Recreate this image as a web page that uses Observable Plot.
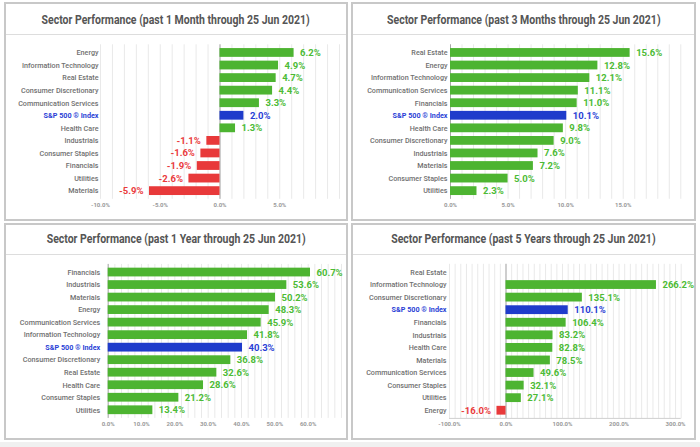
<!DOCTYPE html>
<html><head><meta charset="utf-8">
<script src="https://cdn.jsdelivr.net/npm/d3@7"></script>
<script src="https://cdn.jsdelivr.net/npm/@observablehq/plot@0.6"></script>
<style>
html,body{margin:0;padding:0;background:#fff;}
#page{position:relative;width:700px;height:447px;overflow:hidden;font-family:Roboto,"Noto Sans",sans-serif;}
.panel{position:absolute;box-sizing:border-box;border:2px solid #c8c8c8;background:#fff;}
.title{position:absolute;text-align:center;font-weight:700;font-size:12.5px;color:#555;white-space:nowrap;line-height:14px;}
.title span{display:inline-block;transform:scaleX(0.84);transform-origin:50% 50%;}
.sep{position:absolute;height:1px;background:#dddddd;}
.chart{position:absolute;}
.strip{position:absolute;left:0;top:442px;width:700px;height:5px;background:#f0f0f0;}
</style></head>
<body><div id="page"><div class="strip"></div></div>
<script>
const indexName = "S&P 500 ® Index";

const month1Title = "Sector Performance (past 1 Month through 25 Jun 2021)";
const month1Sectors = ["Energy","Information Technology","Real Estate","Consumer Discretionary","Communication Services","S&P 500 ® Index","Health Care","Industrials","Consumer Staples","Financials","Utilities","Materials"];
const month1Values = [6.2,4.9,4.7,4.4,3.3,2.0,1.3,-1.1,-1.6,-1.9,-2.6,-5.9];
const month1Ticks = [-10,-5,0,5];

const month3Title = "Sector Performance (past 3 Months through 25 Jun 2021)";
const month3Sectors = ["Real Estate","Energy","Information Technology","Communication Services","Financials","S&P 500 ® Index","Health Care","Consumer Discretionary","Industrials","Materials","Consumer Staples","Utilities"];
const month3Values = [15.6,12.8,12.1,11.1,11.0,10.1,9.8,9.0,7.6,7.2,5.0,2.3];
const month3Ticks = [0,5,10,15];

const year1Title = "Sector Performance (past 1 Year through 25 Jun 2021)";
const year1Sectors = ["Financials","Industrials","Materials","Energy","Communication Services","Information Technology","S&P 500 ® Index","Consumer Discretionary","Real Estate","Health Care","Consumer Staples","Utilities"];
const year1Values = [60.7,53.6,50.2,48.3,45.9,41.8,40.3,36.8,32.6,28.6,21.2,13.4];
const year1Ticks = [0,10,20,30,40,50,60];

const year5Title = "Sector Performance (past 5 Years through 25 Jun 2021)";
const year5Sectors = ["Real Estate","Information Technology","Consumer Discretionary","S&P 500 ® Index","Financials","Industrials","Health Care","Materials","Communication Services","Consumer Staples","Utilities","Energy"];
const year5Values = [null,266.2,135.1,110.1,106.4,83.2,82.8,78.5,49.6,32.1,27.1,-16.0];
const year5Ticks = [-100,0,100,200,300];

const GREEN = "#4db431", RED = "#e8393a", BLUE = "#1f3ccb";
const GREEN_TXT = "#4cbb35", RED_TXT = "#ea3a3c", BLUE_TXT = "#2a3fd6";

const panels = [
  {title: month1Title, sectors: month1Sectors, values: month1Values, ticks: month1Ticks, domain: [-10,10], minor: 1,
   box: {left:4, top:2, width:344, height:219}, titleTop: 13, sepTop: 34,
   svg: {left:6, top:35, width:340, height:183, ml:94, mr:7, mt:9.3, mb:19.2}, labelDx: -2, baseline:false},
  {title: month3Title, sectors: month3Sectors, values: month3Values, ticks: month3Ticks, domain: [0,20], minor: 1,
   box: {left:351, top:2, width:345, height:219}, titleTop: 13, sepTop: 34,
   svg: {left:353, top:35, width:341, height:183, ml:97, mr:13.7, mt:9.3, mb:19.2}, labelDx: -3, baseline:false},
  {title: year1Title, sectors: year1Sectors, values: year1Values, ticks: year1Ticks, domain: [0,70], minor: 2,
   box: {left:4, top:223, width:344, height:217}, titleTop: 232, sepTop: 254,
   svg: {left:6, top:255, width:340, height:183, ml:101.7, mr:5, mt:8.9, mb:20.1}, labelDx: -8, baseline:false},
  {title: year5Title, sectors: year5Sectors, values: year5Values, ticks: year5Ticks, domain: [-100,310], minor: 10,
   box: {left:351, top:223, width:345, height:217}, titleTop: 232, sepTop: 254,
   svg: {left:353, top:255, width:341, height:183, ml:96, mr:13.3, mt:8.8, mb:19.6}, labelDx: -3, baseline:true}
];

const page = document.getElementById("page");
const fmt = v => v.toFixed(1) + "%";

for (const p of panels) {
  const box = document.createElement("div");
  box.className = "panel";
  Object.assign(box.style, {left: p.box.left+"px", top: p.box.top+"px", width: p.box.width+"px", height: p.box.height+"px"});
  page.appendChild(box);

  const t = document.createElement("div");
  t.className = "title";
  Object.assign(t.style, {left: p.box.left+"px", width: p.box.width+"px", top: p.titleTop+"px"});
  const sp = document.createElement("span");
  sp.textContent = p.title;
  t.appendChild(sp);
  page.appendChild(t);

  const s = document.createElement("div");
  s.className = "sep";
  Object.assign(s.style, {left: (p.box.left+2)+"px", width: (p.box.width-4)+"px", top: p.sepTop+"px"});
  page.appendChild(s);

  const rows = p.sectors.map((sector, i) => ({sector, value: p.values[i]}));
  const withVal = rows.filter(d => d.value != null);
  const pos = withVal.filter(d => d.value >= 0);
  const neg = withVal.filter(d => d.value < 0);
  const barFill = d => d.sector === indexName ? BLUE : d.value < 0 ? RED : GREEN;
  const txtFill = d => d.sector === indexName ? BLUE_TXT : d.value < 0 ? RED_TXT : GREEN_TXT;
  const minorTicks = d3.range(p.domain[0], p.domain[1] + 1e-9, p.minor);

  const chart = Plot.plot({
    width: p.svg.width, height: p.svg.height,
    marginLeft: p.svg.ml, marginRight: p.svg.mr, marginTop: p.svg.mt, marginBottom: p.svg.mb,
    style: {fontFamily: "Roboto, 'Noto Sans', sans-serif", background: "transparent", overflow: "visible"},
    x: {domain: p.domain, axis: null},
    y: {domain: p.sectors, padding: 0.3, round: false, axis: null},
    color: {type: "identity"},
    marks: [
      Plot.gridX(minorTicks, {stroke: "#e9e9e9", strokeOpacity: 1}),
      Plot.ruleX([0], {stroke: "#a8a8a8", strokeOpacity: 1}),
      Plot.barX(withVal, {x: "value", y: "sector", fill: barFill}),
      Plot.text(pos, {x: "value", y: "sector", text: d => fmt(d.value), textAnchor: "start", dx: 6, fill: txtFill, fontSize: 9.5, fontWeight: 700}),
      Plot.text(neg, {x: "value", y: "sector", text: d => fmt(d.value), textAnchor: "end", dx: -6, fill: txtFill, fontSize: 9.5, fontWeight: 700}),
      Plot.text(rows.filter(d => d.sector !== indexName), {y: "sector", text: "sector", frameAnchor: "left", textAnchor: "end", dx: p.labelDx, fill: "#707070", fontSize: 7.2, fontWeight: 500}),
      Plot.text(rows.filter(d => d.sector === indexName), {y: "sector", text: "sector", frameAnchor: "left", textAnchor: "end", dx: p.labelDx, fill: BLUE_TXT, fontSize: 7.2, fontWeight: 700}),
      Plot.axisX({ticks: p.ticks, tickSize: 0, tickPadding: 3, tickFormat: fmt, fontSize: 6, fontWeight: 700, color: "#9a9a9a", label: null})
    ]
  });
  chart.classList.add("chart");
  Object.assign(chart.style, {left: p.svg.left+"px", top: p.svg.top+"px"});
  if (p.baseline) {
    const xs = chart.scale("x");
    d3.select(chart).append("line")
      .attr("x1", xs.apply(p.domain[0])).attr("x2", xs.apply(p.domain[1]))
      .attr("y1", p.svg.height - p.svg.mb).attr("y2", p.svg.height - p.svg.mb)
      .attr("stroke", "#cfcfcf");
  }
  page.appendChild(chart);
}
</script>
</body></html>
